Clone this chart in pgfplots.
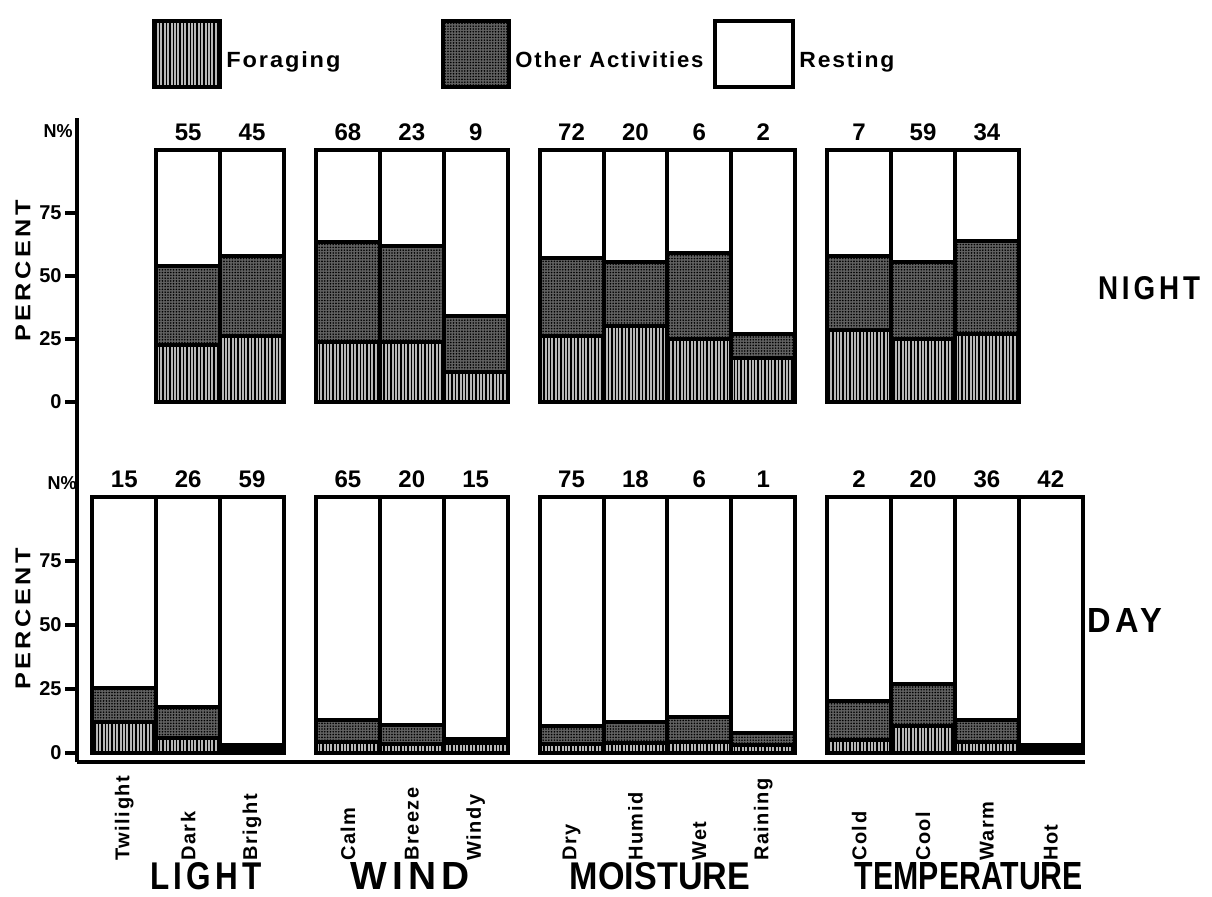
\documentclass[border=0pt]{standalone}
\usepackage{fontspec}
\setmainfont{Liberation Sans}
\newfontfamily\wide[LetterSpace=14]{Liberation Sans}
\newfontfamily\slight[LetterSpace=8]{Liberation Sans}
\usepackage{graphicx}
\usepackage{pgfplots}
\pgfplotsset{compat=1.18}
\usepackage{pgfplotstable}
\usetikzlibrary{patterns.meta}

% Activity budget (percent) by weather condition.
% x: bar position, F: foraging, O: other activities, R: resting,
% top: height of the full bar, n: share of records (N%) printed above it
\pgfplotstableread{
x    F     O     R     top n
1    22.5  31.5  46    100 55
2    26    32    42    100 45
3.5  24    39.5  36.5  100 68
4.5  24    38    38    100 23
5.5  12    22    66    100 9
7    26    31    43    100 72
8    30    25.5  44.5  100 20
9    25    34    41    100 6
10   17.5  9.5   73    100 2
11.5 28.5  29.5  42    100 7
12.5 25    30.5  44.5  100 59
13.5 27    37    36    100 34
}\night

\pgfplotstableread{
x    F     O     R     top n
0    12    13.5  74.5  100 15
1    6     12    82    100 26
2    1.5   1.5   97    100 59
3.5  4.5   8.5   87    100 65
4.5  3.5   7.5   89    100 20
5.5  4     1.5   94.5  100 15
7    3.5   7     89.5  100 75
8    4     8     88    100 18
9    4.5   9.5   86    100 6
10   3     5     92    100 1
11.5 5     15.5  79.5  100 2
12.5 10.5  16.5  73    100 20
13.5 4.5   8.5   87    100 36
14.5 1.5   1.5   97    100 42
}\day

\pgfplotsset{
  swatch/.style={legend image code/.code={\draw[##1] (0pt,-13pt) rectangle (#1,20pt);}},
  forage/.style={swatch=33pt, fill=black!28,
    postaction={pattern={Lines[angle=90,distance=1.7pt,line width=0.7pt]}}},
  other/.style={swatch=33pt, fill=black!62,
    postaction={pattern={Dots[distance=1.4pt,radius=0.45pt]}}},
  rest/.style={swatch=39pt, fill=white},
  frame/.style={
    x=31.95pt, xmin=-0.74, xmax=15.04, clip=false,
  },
  panel/.style={
    frame,
    ybar stacked, bar width=1,
    axis line style={line width=2.4pt},
    ytick={0,25,50,75},
    /pgf/number format/assume math mode=true,
    yticklabel style={font=\bfseries\fontsize{10}{12}\selectfont, inner sep=1.5pt},
    y tick style={line width=1.6pt, black},
    major tick length=6pt,
    tick align=outside,
    every axis plot/.append style={draw=black, line width=2pt},
  },
  % N% figures above the bars
  counts/.style={frame, hide axis},
  countlabels/.style={draw=none, mark=none, nodes near coords,
    point meta=explicit symbolic,
    every node near coord/.append style={font=\bfseries\fontsize{12}{13}\selectfont,
      anchor=south, inner sep=4.5pt, text=black}},
}

\begin{document}
\begin{tikzpicture}
\useasboundingbox (0,0) rectangle (606pt,-448.5pt);

% night panel
\begin{axis}[panel, y=1.26pt, ymin=0, ymax=100,
  at={(38.5pt,-201pt)}, anchor=south west,
  axis x line=none, axis y line*=left]
\addplot[forage] table[x=x,y=F]{\night};
\addplot[other]  table[x=x,y=O]{\night};
\addplot[rest]   table[x=x,y=R]{\night};
\end{axis}
\begin{axis}[counts, y=1.26pt, ymin=0, ymax=100,
  at={(38.5pt,-201pt)}, anchor=south west]
\addplot[countlabels] table[x=x,y=top,meta=n]{\night};
\end{axis}

% day panel, its y axis runs up through the night panel
\begin{axis}[panel, y=1.28pt, ymin=-3.5, ymax=248,
  at={(38.5pt,-381pt)}, anchor=south west,
  axis lines*=left,
  xtick={0,1,2,3.5,4.5,5.5,7,8,9,10,11.5,12.5,13.5,14.5},
  xticklabels={Twilight,Dark,Bright,Calm,Breeze,Windy,Dry,Humid,Wet,Raining,Cold,Cool,Warm,Hot},
  x tick style={draw=none},
  xticklabel style={yshift=-47pt, rotate=90, anchor=west,
    font=\slight\bfseries\fontsize{10}{12}\selectfont},
  legend columns=3,
  legend style={draw=none, fill=none, inner sep=0pt,
    at={(axis description cs:0.0744,1.155)}, anchor=north west,
    font=\slight\bfseries\fontsize{11}{12}\selectfont,
    /tikz/every even column/.append style={column sep=3pt}},
]
\addplot[forage] table[x=x,y=F]{\day};
\addlegendentry{\resizebox{57pt}{\height}{Foraging}\hspace*{45.5pt}}
\addplot[other]  table[x=x,y=O]{\day};
\addlegendentry{\resizebox{94pt}{\height}{Other Activities}}
\addplot[rest]   table[x=x,y=R]{\day};
\addlegendentry{\resizebox{47.5pt}{\height}{Resting}}
\end{axis}
\begin{axis}[counts, y=1.28pt, ymin=-3.5, ymax=248,
  at={(38.5pt,-381pt)}, anchor=south west]
\addplot[countlabels] table[x=x,y=top,meta=n]{\day};
\end{axis}

% axis titles and panel names
\begin{scope}[every node/.style={inner sep=0pt}]
\node[rotate=90] at (11.5pt,-135.5pt) {\resizebox{71pt}{7.5pt}{\wide\bfseries PERCENT}};
\node[rotate=90] at (11.5pt,-309.5pt) {\resizebox{71pt}{7.5pt}{\wide\bfseries PERCENT}};
\node[anchor=east] at (36.5pt,-65.5pt) {\resizebox{14.5pt}{6.5pt}{\bfseries N\%}};
\node[anchor=east] at (38.5pt,-241.5pt) {\resizebox{14.5pt}{6.5pt}{\bfseries N\%}};
\node at (574.5pt,-144pt) {\resizebox{51pt}{11.5pt}{\wide\bfseries NIGHT}};
\node at (562.5pt,-310.5pt) {\resizebox{37.5pt}{12pt}{\wide\bfseries DAY}};
\node at (103pt,-438pt) {\resizebox{56pt}{13.5pt}{\wide\bfseries LIGHT}};
\node at (205pt,-438pt) {\resizebox{60pt}{13.5pt}{\wide\bfseries WIND}};
\node at (330pt,-438pt) {\resizebox{90pt}{13.5pt}{\bfseries MOISTURE}};
\node at (484.5pt,-438pt) {\resizebox{114pt}{13.5pt}{\bfseries TEMPERATURE}};
\end{scope}
\end{tikzpicture}
\end{document}
